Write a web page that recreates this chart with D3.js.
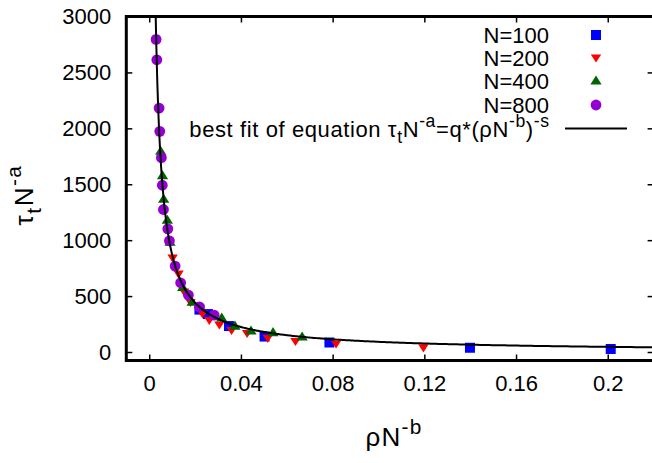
<!DOCTYPE html>
<html>
<head>
<meta charset="utf-8">
<script src="https://cdn.jsdelivr.net/npm/d3@7"></script>
<style>
  html, body { margin: 0; padding: 0; background: #fff; }
  svg { display: block; }
  text { font-family: "Liberation Sans", Arial, Helvetica, sans-serif; fill: #000; }
</style>
</head>
<body>
<svg id="chart" width="652" height="463"></svg>
<script>
// ---------- data ----------
const xTicks = [0, 0.04, 0.08, 0.12, 0.16, 0.2];
const yTicks = [0, 500, 1000, 1500, 2000, 2500, 3000];
const xTickLabels = ["0", "0.04", "0.08", "0.12", "0.16", "0.2"];
const yTickLabels = ["0", "500", "1000", "1500", "2000", "2500", "3000"];

const n100X = [0.0219, 0.0256, 0.0348, 0.0503, 0.0786, 0.1399, 0.2013];
const n100Y = [379, 339, 232, 138, 85, 38, 27];

const n200X = [0.0102, 0.0128, 0.0152, 0.0180, 0.0232, 0.0262, 0.0306, 0.0359, 0.0427, 0.0517, 0.0638, 0.0815, 0.1196];
const n200Y = [839, 696, 536, 442, 339, 281, 241, 192, 165, 122, 94, 71, 36];

const n400X = [0.0050, 0.0058, 0.0063, 0.0079, 0.0091, 0.0146, 0.0187, 0.0316, 0.0374, 0.0444, 0.0540, 0.0667];
const n400Y = [1795, 1576, 1366, 1179, 982, 578, 446, 304, 232, 188, 174, 134];

const n800X = [0.0030, 0.0033, 0.0043, 0.0046, 0.0053, 0.0057, 0.0062, 0.0081, 0.0088, 0.0113, 0.0137, 0.0171, 0.0219, 0.0283];
const n800Y = [2795, 2613, 2181, 1973, 1738, 1491, 1274, 1101, 994, 768, 619, 509, 404, 330];

// fit: y = q * x^(-s)
const fitQ = [9.54];
const fitS = [0.98];

const seriesNames = ["N=100", "N=200", "N=400", "N=800"];
const seriesColors = ["#0000ff", "#ff0000", "#006400", "#9400d3"];
const seriesShapes = ["square", "down", "up", "circle"];

// ---------- layout ----------
const L = 126.3, R = 653.6, T = 16.5, B = 360.5;

const svg = d3.select("#chart");

const x = d3.scaleLinear().domain([-0.01, 0.22]).range([L, R]);
const y = d3.scaleLinear().domain([-76, 3000]).range([B, T]);

svg.append("defs").append("clipPath").attr("id", "clip")
  .append("rect").attr("x", L).attr("y", T).attr("width", R - L).attr("height", B - T);

const FS = 22;

const axisStyle = g => {
  g.select(".domain").remove();
  g.selectAll(".tick line").attr("stroke", "#000").attr("stroke-width", 1.5);
  g.selectAll(".tick text").attr("font-size", FS).attr("font-family", "Liberation Sans, Arial, sans-serif").attr("fill", "#000");
};

svg.append("g").attr("transform", `translate(0,${B})`)
  .call(d3.axisBottom(x).tickValues(xTicks).tickFormat((d, i) => xTickLabels[i]).tickSize(-6).tickPadding(15))
  .call(axisStyle);
svg.append("g").attr("transform", `translate(0,${T})`)
  .call(d3.axisTop(x).tickValues(xTicks).tickFormat("").tickSize(-6))
  .call(axisStyle);
svg.append("g").attr("transform", `translate(${L},0)`)
  .call(d3.axisLeft(y).tickValues(yTicks).tickFormat((d, i) => yTickLabels[i]).tickSize(-6).tickPadding(15))
  .call(axisStyle);
svg.append("g").attr("transform", `translate(${R},0)`)
  .call(d3.axisRight(y).tickValues(yTicks).tickFormat("").tickSize(-6))
  .call(axisStyle);

function marker(sel, shape, color) {
  if (shape === "square") {
    sel.append("rect").attr("x", -5).attr("y", -5).attr("width", 10).attr("height", 10).attr("fill", color);
  } else if (shape === "circle") {
    sel.append("circle").attr("r", 5.4).attr("fill", color);
  } else if (shape === "up") {
    sel.append("path").attr("d", "M0,-5.5L5.6,3.6L-5.6,3.6Z").attr("fill", color);
  } else {
    sel.append("path").attr("d", "M0,4.5L5.2,-3.6L-5.2,-3.6Z").attr("fill", color);
  }
}

const allX = [n100X, n200X, n400X, n800X];
const allY = [n100Y, n200Y, n400Y, n800Y];

const plot = svg.append("g").attr("clip-path", "url(#clip)");
allX.forEach((xs, si) => {
  const g = plot.append("g");
  xs.forEach((xv, i) => {
    const m = g.append("g").attr("transform", `translate(${x(xv)},${y(allY[si][i])})`);
    marker(m, seriesShapes[si], seriesColors[si]);
  });
});

const xMin = 0.0025, xMax = 0.22;
const curveX = d3.range(0, 500).map(i => xMin * Math.pow(xMax / xMin, i / 499));
const line = d3.line().x(d => x(d)).y(d => y(fitQ[0] * Math.pow(d, -fitS[0])));
plot.append("path").datum(curveX).attr("d", line)
  .attr("fill", "none").attr("stroke", "#000").attr("stroke-width", 2);

svg.append("rect").attr("x", L).attr("y", T).attr("width", R - L).attr("height", B - T)
  .attr("fill", "none").attr("stroke", "#000").attr("stroke-width", 3);

// legend
const legTextX = 549, legMarkX = 596;
const rowY = [35, 58, 81, 105];
seriesNames.forEach((name, i) => {
  svg.append("text").attr("x", legTextX).attr("y", rowY[i] + 8).attr("text-anchor", "end")
    .attr("font-size", FS).text(name);
  const m = svg.append("g").attr("transform", `translate(${legMarkX},${rowY[i]})`);
  marker(m, seriesShapes[i], seriesColors[i]);
});
function addRuns(t, runs, fs) {
  let shift = 0;
  runs.forEach(r => {
    const target = r[1] === "sup" ? -0.45 * fs : r[1] === "sub" ? 0.3 * fs : 0;
    const ts = t.append("tspan").attr("dy", target - shift).text(r[0]);
    if (r[1] !== "n") ts.attr("font-size", 0.8 * fs);
    shift = target;
  });
}
const fitRow = 128.5;
const ft = svg.append("text").attr("x", legTextX + 0.6).attr("y", fitRow + 8).attr("text-anchor", "end")
  .attr("font-size", FS).attr("letter-spacing", 0.6);
addRuns(ft, [["best fit of equation τ", "n"], ["t", "sub"], ["N", "n"], ["-a", "sup"], ["=q*(ρN", "n"], ["-b", "sup"], [")", "n"], ["-s", "sup"]], FS);
svg.append("line").attr("x1", 565).attr("x2", 627).attr("y1", fitRow).attr("y2", fitRow)
  .attr("stroke", "#000").attr("stroke-width", 2);

// axis titles
const AFS = 26;
const xl = svg.append("text").attr("x", 394).attr("y", 446).attr("text-anchor", "middle")
  .attr("font-size", AFS).attr("letter-spacing", 1.2);
addRuns(xl, [["ρN", "n"], ["-b", "sup"]], AFS);
const yl = svg.append("text").attr("transform", "translate(33,195) rotate(-90)").attr("text-anchor", "middle")
  .attr("font-size", AFS).attr("letter-spacing", 1.5);
addRuns(yl, [["τ", "n"], ["t", "sub"], ["N", "n"], ["-a", "sup"]], AFS);
</script>
</body>
</html>
